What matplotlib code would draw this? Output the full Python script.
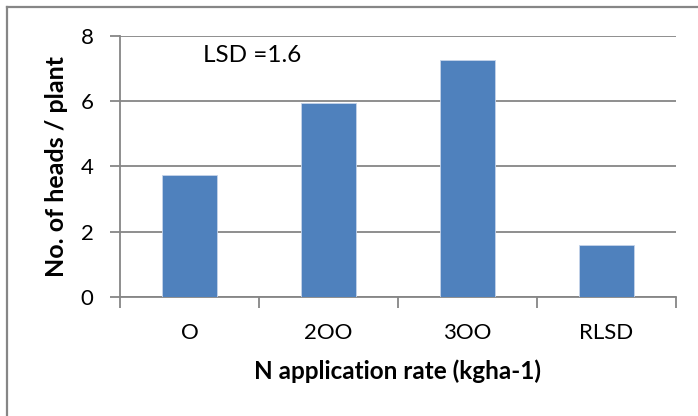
import numpy as np
import matplotlib.pyplot as plt
from matplotlib.lines import Line2D

plt.rcParams['font.family'] = ['Lato', 'DejaVu Sans']

rates = ['O', '2OO', '3OO', 'RLSD']
heads = [3.73, 5.95, 7.27, 1.6]
lsd = 1.6

W, H = 698, 416
fig = plt.figure(figsize=(W / 100, H / 100), dpi=100)
ax = fig.add_axes([120 / W, 1 - 296.7 / H, 556 / W, 260.7 / H])

grid_c = '#868686'
x = np.arange(len(rates))
ax.bar(x, heads, width=0.4, color='#4f81bd', edgecolor='#c6d4ea', linewidth=0.6, zorder=3)

ax.set_xlim(-0.5, len(rates) - 0.5)
ax.set_ylim(0, 8)
ax.set_yticks([0, 2, 4, 6, 8])
ax.yaxis.grid(True, color=grid_c, linewidth=1.3)
ax.set_axisbelow(True)

ax.set_xticks(x)
ax.set_xticklabels(rates)
ax.set_xticks(np.arange(-0.5, len(rates)), minor=True)
ax.tick_params(axis='x', which='major', length=0, pad=19, labelsize=16)
ax.tick_params(axis='x', which='minor', length=8, width=1.3, color=grid_c)
ax.tick_params(axis='y', length=7, width=1.3, color=grid_c, labelsize=16, pad=12)

for s in ['top', 'right']:
    ax.spines[s].set_visible(False)
for s in ['left', 'bottom']:
    ax.spines[s].set_color(grid_c)
    ax.spines[s].set_linewidth(1.3)

ax.set_xlabel('N application rate (kgha-1)', fontsize=17.5, fontweight='bold', labelpad=12)
ax.set_ylabel('No. of heads / plant', fontsize=18, fontweight='bold', labelpad=9)
ax.text(0.149, 0.927, 'LSD =%.1f' % lsd, transform=ax.transAxes, fontsize=17.5, va='center')

# frame lines on the left and top edge
fig.add_artist(Line2D([7 / W, 7 / W], [0, 1 - 6.5 / H], color=grid_c, linewidth=1.6, transform=fig.transFigure))
fig.add_artist(Line2D([7 / W, 1], [1 - 6.5 / H, 1 - 6.5 / H], color=grid_c, linewidth=1.6, transform=fig.transFigure))

fig.savefig('out.png', dpi=100)
